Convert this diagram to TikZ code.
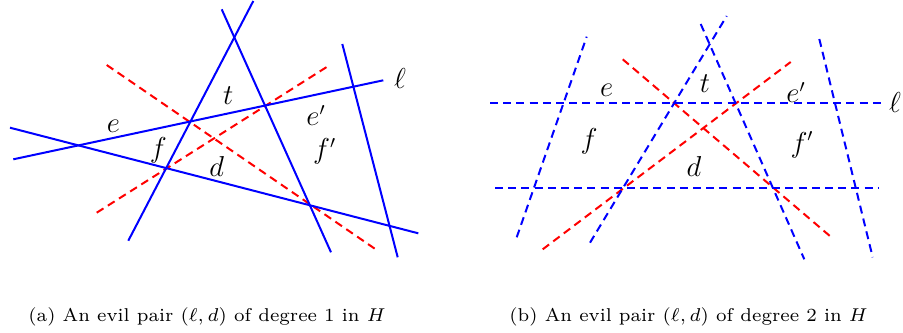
\documentclass[tikz,border=0pt]{standalone}
\begin{document}
\begin{tikzpicture}[x=0.5pt,y=-0.5pt,
  bl/.style={draw=blue,line width=1pt},
  rd/.style={draw=red,line width=1pt,dash pattern=on 4pt off 2.6pt},
  bd/.style={draw=blue,line width=1pt,dash pattern=on 4pt off 2.6pt},
  lab/.style={inner sep=0pt,font=\fontsize{13.5}{16}\selectfont},
  captxt/.style={inner sep=0pt,anchor=base,font=\fontsize{7}{8.4}\selectfont}]
\useasboundingbox (0,0) rectangle (903,332);
% ---------- panel (a)
\coordinate (l1) at (13.3,159.3);  \coordinate (l2) at (383.3,80.3);
\coordinate (d1) at (10,127.7);    \coordinate (d2) at (418.3,233.3);
\coordinate (p1) at (128.3,240.7); \coordinate (p2) at (253.3,1);
\coordinate (q1) at (221.7,9.3);   \coordinate (q2) at (331,252.3);
\coordinate (r1) at (342.3,44);    \coordinate (r2) at (397.7,257.3);
\coordinate (s1) at (106.7,65);    \coordinate (s2) at (376.7,250);
\coordinate (u1) at (96.7,212.7);  \coordinate (u2) at (328.3,66);
\draw[rd] (s1) -- (s2);
\draw[rd] (u1) -- (u2);
\draw[bl] (l1) -- (l2);
\draw[bl] (d1) -- (d2);
\draw[bl] (p1) -- (p2);
\draw[bl] (q1) -- (q2);
\draw[bl] (r1) -- (r2);
\node[lab] (ella) at (400,78) {$\ell$};
\node[lab] (ea) at (113.3,126) {$e$};
\node[lab] (ta) at (228.3,96) {$t$};
\node[lab] (e2a) at (316,115.7) {$e'$};
\node[lab] (fa) at (158.3,150) {$f$};
\node[lab] (da) at (216.7,166.7) {$d$};
\node[lab] (f2a) at (324.7,151.5) {$f'$};
\node[captxt] (capa) at (207,321) {\scalebox{1.325}{(a) An evil pair $(\ell,d)$ of degree 1 in $H$}};
% ---------- panel (b)
\coordinate (L1) at (490,103.3);   \coordinate (L2) at (883.3,103.3);
\coordinate (D1) at (495,188.3);   \coordinate (D2) at (879.3,188.3);
\coordinate (A1) at (516.7,237.3); \coordinate (A2) at (586.7,36.7);
\coordinate (B1) at (590,242.7);   \coordinate (B2) at (726.7,16);
\coordinate (C1) at (700.7,24);    \coordinate (C2) at (804.3,259.3);
\coordinate (E1) at (819.3,39);    \coordinate (E2) at (872.7,257.3);
\coordinate (R1) at (622.7,59.3);  \coordinate (R2) at (830.7,236.7);
\coordinate (S1) at (542.7,249.3); \coordinate (S2) at (790.7,62);
\draw[rd] (R1) -- (R2);
\draw[rd] (S1) -- (S2);
\draw[bd] (L1) -- (L2);
\draw[bd] (D1) -- (D2);
\draw[bd] (A1) -- (A2);
\draw[bd] (B1) -- (B2);
\draw[bd] (C1) -- (C2);
\draw[bd] (E1) -- (E2);
\node[lab] (ellb) at (895,102) {$\ell$};
\node[lab] (eb) at (606.7,90.7) {$e$};
\node[lab] (tb) at (705,84) {$t$};
\node[lab] (e2b) at (796,92.7) {$e'$};
\node[lab] (fb) at (589,141.7) {$f$};
\node[lab] (db) at (694,166) {$d$};
\node[lab] (f2b) at (802,145) {$f'$};
\node[captxt] (capb) at (688.5,321) {\scalebox{1.325}{(b) An evil pair $(\ell,d)$ of degree 2 in $H$}};
\end{tikzpicture}
\end{document}
